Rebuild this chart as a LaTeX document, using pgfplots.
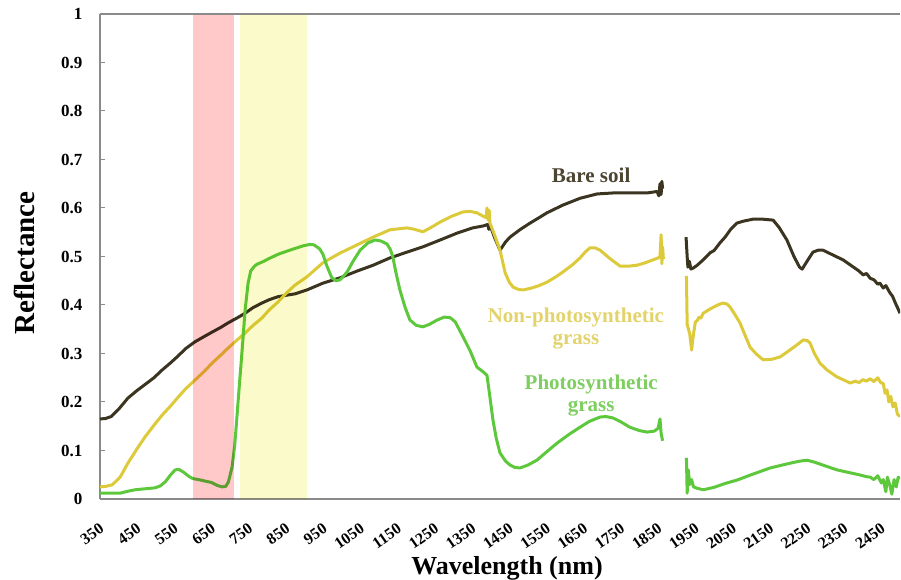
\documentclass[border=0pt]{standalone}
\usepackage{fontspec}
\setmainfont{Liberation Serif}
\usepackage{pgfplots}
\pgfplotsset{compat=1.18}

\definecolor{soil}{HTML}{3B3421}
\definecolor{soiltext}{HTML}{4C4531}
\definecolor{dry}{HTML}{DCCA3A}
\definecolor{drytext}{HTML}{E2D36C}
\definecolor{leaf}{HTML}{5EC83C}
\definecolor{leaftext}{HTML}{7ECE60}
\definecolor{bandred}{HTML}{FFC9C9}
\definecolor{bandyel}{HTML}{FBFACB}
\definecolor{frame}{HTML}{8A8A8A}

\begin{document}
\begin{tikzpicture}
\begin{axis}[
  name=ax,
  scale only axis, width=800pt, height=485pt,
  xmin=350, xmax=2500, ymin=0, ymax=1,
  axis lines*=left,
  axis line style={draw=frame, line width=1.2pt, -},
  xtick={350,450,...,2450},
  ytick={0,0.1,0.2,0.3,0.4,0.5,0.6,0.7,0.8,0.9,1},
  x tick style={draw=none},
  y tick style={draw=frame, line width=1pt},
  tick align=inside, major tick length=5pt,
  /pgf/number format/assume math mode=true,
  /pgf/number format/1000 sep={},
  yticklabel style={font=\fontsize{17}{19}\selectfont\bfseries, xshift=-14pt},
  xticklabel style={font=\fontsize{16}{17}\selectfont\bfseries,
    inner sep=0pt, xshift=2pt, yshift=-28pt, rotate=35, anchor=east},
  xlabel={Wavelength (nm)},
  ylabel={Reflectance},
  xlabel style={font=\fontsize{26}{28}\selectfont\bfseries,
    at={(rel axis cs:0.50875,-0.1567)}, anchor=base},
  ylabel style={font=\fontsize{29}{30}\selectfont\bfseries,
    at={(rel axis cs:-0.08125,0.4866)}, anchor=base},
  unbounded coords=jump,
  clip=true,
]

% Bare soil
\addplot[soil, line width=3pt, line join=round] coordinates {
(350,0.165) (365,0.166) (380,0.170) (400,0.185) (425,0.208) (450,0.224)
(471,0.236) (495,0.250) (517,0.266) (540,0.281) (560,0.295) (580,0.310)
(605,0.324) (630,0.335) (651,0.344) (675,0.354) (694,0.363) (720,0.374)
(740,0.383) (760,0.394) (785,0.404) (805,0.411) (828,0.417) (850,0.420)
(874,0.423) (906,0.431) (949,0.445) (995,0.456) (1041,0.470) (1084,0.482)
(1129,0.497) (1175,0.509) (1218,0.520) (1264,0.534) (1309,0.548) (1352,0.559)
(1380,0.563) (1392,0.566) (1395,0.556) (1398,0.565) (1410,0.540) (1425,0.513)
(1440,0.530) (1452,0.540) (1480,0.556) (1506,0.569) (1530,0.580) (1551,0.590)
(1594,0.606) (1640,0.620) (1686,0.629) (1729,0.631) (1774,0.631) (1820,0.631)
(1847,0.634) (1852,0.625) (1855,0.650) (1858,0.628) (1860,0.655) (1862,0.640)
(1900,nan)
(1925,0.540) (1928,0.500) (1930,0.478) (1934,0.490) (1938,0.474) (1944,0.476)
(1955,0.482) (1971,0.493) (1990,0.508) (2000,0.512) (2016,0.528) (2030,0.540)
(2045,0.556) (2062,0.569) (2080,0.573) (2105,0.577) (2130,0.577) (2159,0.575)
(2175,0.560) (2196,0.534) (2215,0.500) (2230,0.478) (2237,0.474) (2250,0.490)
(2266,0.509) (2280,0.513) (2293,0.513) (2320,0.503) (2347,0.493) (2375,0.478)
(2390,0.470) (2401,0.462) (2410,0.465) (2420,0.455) (2430,0.452) (2440,0.443)
(2446,0.445) (2455,0.435) (2462,0.440) (2473,0.425) (2480,0.418) (2487,0.405)
(2493,0.395) (2500,0.383)
};

% Non-photosynthetic grass
\addplot[dry, line width=3pt, line join=round] coordinates {
(350,0.025) (365,0.026) (382,0.029) (395,0.038) (404,0.045) (415,0.060)
(425,0.074) (450,0.104) (471,0.128) (495,0.152) (517,0.173) (540,0.192)
(560,0.210) (580,0.227) (605,0.245) (630,0.263) (651,0.280) (675,0.297)
(694,0.311) (720,0.329) (740,0.342) (760,0.357) (785,0.373) (805,0.390)
(828,0.406) (850,0.424) (874,0.441) (906,0.458) (949,0.487) (995,0.507)
(1041,0.524) (1084,0.540) (1129,0.555) (1175,0.559) (1195,0.556) (1218,0.551)
(1240,0.560) (1264,0.571) (1295,0.583) (1326,0.592) (1345,0.593) (1363,0.590)
(1380,0.583) (1388,0.580) (1390,0.600) (1393,0.575) (1396,0.595) (1398,0.569)
(1410,0.545) (1425,0.513) (1439,0.466) (1450,0.447) (1460,0.437) (1475,0.432)
(1487,0.431) (1510,0.435) (1530,0.440) (1551,0.447) (1575,0.458) (1594,0.468)
(1620,0.483) (1640,0.497) (1655,0.510) (1667,0.518) (1680,0.518) (1694,0.513)
(1720,0.496) (1748,0.480) (1770,0.480) (1793,0.482) (1815,0.487) (1836,0.493)
(1850,0.497) (1855,0.500) (1858,0.545) (1860,0.485) (1862,0.520) (1864,0.495)
(1900,nan)
(1926,0.460) (1928,0.360) (1935,0.340) (1940,0.307) (1944,0.335) (1950,0.365)
(1955,0.368) (1960,0.375) (1965,0.373) (1971,0.383) (1990,0.392) (2010,0.400)
(2024,0.404) (2035,0.402) (2043,0.396) (2055,0.382) (2070,0.363) (2085,0.335)
(2097,0.313) (2115,0.298) (2132,0.287) (2155,0.288) (2178,0.293) (2200,0.305)
(2220,0.316) (2240,0.328) (2250,0.327) (2258,0.322) (2270,0.300) (2285,0.280)
(2304,0.266) (2330,0.252) (2350,0.245) (2366,0.239) (2380,0.243) (2390,0.240)
(2400,0.246) (2410,0.243) (2420,0.248) (2430,0.242) (2440,0.250) (2448,0.240)
(2455,0.238) (2460,0.218) (2465,0.225) (2470,0.200) (2475,0.212) (2481,0.190)
(2487,0.198) (2493,0.175) (2500,0.170)
};

% Photosynthetic grass
\addplot[leaf, line width=3pt, line join=round] coordinates {
(350,0.012) (380,0.012) (404,0.012) (425,0.016) (444,0.019) (470,0.021)
(498,0.023) (512,0.027) (525,0.035) (540,0.050) (552,0.060) (562,0.061)
(575,0.055) (590,0.046) (600,0.042) (615,0.040) (632,0.037) (650,0.034)
(665,0.028) (678,0.025) (688,0.026) (695,0.035) (705,0.066) (712,0.110)
(718,0.169) (725,0.240) (732,0.307) (740,0.390) (748,0.445) (755,0.470)
(765,0.480) (772,0.484) (790,0.490) (802,0.495) (830,0.505) (860,0.513)
(880,0.518) (896,0.522) (915,0.525) (925,0.524) (940,0.516) (949,0.505)
(960,0.480) (973,0.456) (985,0.450) (995,0.452) (1005,0.460) (1014,0.468)
(1030,0.490) (1049,0.513) (1070,0.528) (1089,0.534) (1105,0.532) (1121,0.526)
(1130,0.515) (1137,0.499) (1145,0.468) (1156,0.431) (1170,0.395) (1183,0.369)
(1200,0.358) (1218,0.355) (1235,0.360) (1256,0.369) (1275,0.375) (1291,0.374)
(1305,0.365) (1315,0.350) (1326,0.334) (1345,0.305) (1363,0.272) (1380,0.262)
(1390,0.255) (1398,0.210) (1406,0.163) (1415,0.125) (1425,0.095) (1440,0.078)
(1452,0.070) (1465,0.065) (1479,0.064) (1500,0.070) (1524,0.080) (1550,0.097)
(1578,0.115) (1610,0.133) (1640,0.148) (1665,0.160) (1694,0.169) (1710,0.170)
(1729,0.167) (1750,0.159) (1774,0.148) (1800,0.141) (1820,0.138) (1840,0.140)
(1850,0.146) (1855,0.165) (1858,0.135) (1862,0.120)
(1900,nan)
(1926,0.085) (1928,0.012) (1931,0.060) (1935,0.030) (1940,0.040) (1945,0.025)
(1955,0.022) (1971,0.019) (2000,0.024) (2030,0.032) (2062,0.039) (2100,0.050)
(2151,0.064) (2200,0.073) (2230,0.078) (2250,0.080) (2270,0.076) (2300,0.068)
(2331,0.060) (2360,0.055) (2390,0.050) (2410,0.046) (2420,0.045) (2430,0.040)
(2440,0.048) (2450,0.033) (2455,0.040) (2462,0.015) (2466,0.045) (2472,0.030)
(2478,0.010) (2484,0.040) (2490,0.025) (2495,0.045) (2500,0.042)
};

% Red-edge and near-infrared bands, tinting whatever lies beneath them
\addplot[draw=none, fill=bandred, blend mode=multiply, forget plot]
  coordinates {(600,1) (710,1)} \closedcycle;
\addplot[draw=none, fill=bandyel, blend mode=multiply, forget plot]
  coordinates {(726,1) (906,1)} \closedcycle;

% top edge of the plot area
\draw[frame, line width=1.2pt] (rel axis cs:0,1) -- (rel axis cs:1,1);

% curve labels
\node[text=soiltext, font=\fontsize{21}{23}\selectfont\bfseries]
  at (axis cs:1670,0.668) {Bare soil};
\node[text=drytext, font=\fontsize{21}{22}\selectfont\bfseries, align=center]
  at (axis cs:1629,0.352) {Non-photosynthetic\\grass};
\node[text=leaftext, font=\fontsize{21}{22}\selectfont\bfseries, align=center]
  at (axis cs:1670,0.214) {Photosynthetic\\grass};
\end{axis}
\pgfresetboundingbox
\path[use as bounding box] ([shift={(-100pt,-81pt)}]ax.south west)
  rectangle ([shift={(1pt,14pt)}]ax.north east);
\end{tikzpicture}
\end{document}
